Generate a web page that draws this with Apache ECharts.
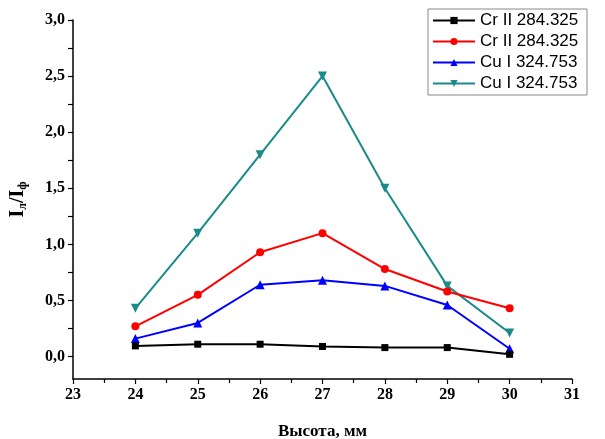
<!DOCTYPE html>
<html><head><meta charset="utf-8">
<script src="https://cdn.jsdelivr.net/npm/echarts@6/dist/echarts.min.js"></script>
<style>html,body{margin:0;padding:0;background:#fff}#c{width:605px;height:439px}</style>
</head><body><div id="c"></div>
<script>
const heights = [24, 25, 26, 27, 28, 29, 30];
const seriesNames = ['Cr II 284.325', 'Cr II 284.325 ', 'Cu I 324.753', 'Cu I 324.753 '];
const crBlack = [0.095, 0.11, 0.11, 0.09, 0.08, 0.08, 0.02];
const crRed = [0.27, 0.55, 0.93, 1.10, 0.78, 0.58, 0.43];
const cuBlue = [0.16, 0.30, 0.64, 0.68, 0.63, 0.46, 0.07];
const cuTeal = [0.43, 1.10, 1.80, 2.50, 1.50, 0.63, 0.21];
const yLabelValues = [0, 0.5, 1.0, 1.5, 2.0, 2.5, 3.0];
const yTickValues = [0, 0.25, 0.5, 0.75, 1.0, 1.25, 1.5, 1.75, 2.0, 2.25, 2.5, 2.75, 3.0];
const colors = ['#000000', '#ff0000', '#0000ff', '#1b8a8a'];
const symbols = ['rect', 'circle', 'triangle', 'path://M0,0 L10,0 L5,10 Z'];
const sizes = [7, 8, 9, 9];
const allData = [crBlack, crRed, cuBlue, cuTeal];

const chart = echarts.init(document.getElementById('c'));
const serif = '"Liberation Serif","Times New Roman",serif';
chart.setOption({
  animation: false,
  grid: {left: 73, right: 33, top: 20, bottom: 60, containLabel: false, outerBoundsMode: 'none'},
  legend: {
    orient: 'vertical', right: 18, top: 9,
    itemWidth: 42, itemHeight: 9, itemGap: 4,
    padding: [3, 4, 3, 4],
    borderColor: '#888', borderWidth: 1,
    textStyle: {fontFamily: '"Liberation Sans",Arial,sans-serif', fontSize: 17, color: '#000'},
    data: seriesNames
  },
  xAxis: {
    type: 'value', min: 23, max: 31, interval: 1,
    name: 'Высота, мм', nameLocation: 'middle', nameGap: 44,
    nameTextStyle: {fontFamily: serif, fontWeight: 'bold', fontSize: 17, color: '#000'},
    axisLine: {onZero: false, lineStyle: {color: '#000', width: 1.5}},
    axisTick: {inside: false, length: 5, lineStyle: {color: '#000', width: 1.2}},
    minorTick: {show: true, splitNumber: 2, length: 4, lineStyle: {color: '#000', width: 1.2}},
    splitLine: {show: false},
    axisLabel: {fontFamily: serif, fontWeight: 'bold', fontSize: 16, color: '#000', margin: 8}
  },
  yAxis: {
    type: 'value', min: -0.2, max: 3.0,
    name: '{n|I}{s|л}{n|/I}{s|ф}', nameLocation: 'middle', nameGap: 44, nameRotate: 90,
    nameTextStyle: {
      rich: {
        n: {fontFamily: serif, fontWeight: 'bold', fontSize: 20, color: '#000'},
        s: {fontFamily: serif, fontWeight: 'bold', fontSize: 12, color: '#000', verticalAlign: 'bottom', padding: [10, 0, 0, 0]}
      }
    },
    axisLine: {show: true, onZero: false, lineStyle: {color: '#000', width: 1.5}},
    axisTick: {show: true, inside: false, length: 5, customValues: yTickValues, lineStyle: {color: '#000', width: 1.2}},
    splitLine: {show: false},
    axisLabel: {
      fontFamily: serif, fontWeight: 'bold', fontSize: 16, color: '#000', margin: 8,
      customValues: yLabelValues,
      formatter: function (v) { return Number(v).toFixed(1).replace('.', ','); }
    }
  },
  series: allData.map(function (d, i) {
    return {
      name: seriesNames[i], type: 'line',
      data: heights.map(function (h, j) { return [h, d[j]]; }),
      symbol: symbols[i], symbolSize: sizes[i], showAllSymbol: true,
      lineStyle: {color: colors[i], width: 2},
      itemStyle: {color: colors[i]},
      z: 10 - i
    };
  })
});
</script></body></html>
